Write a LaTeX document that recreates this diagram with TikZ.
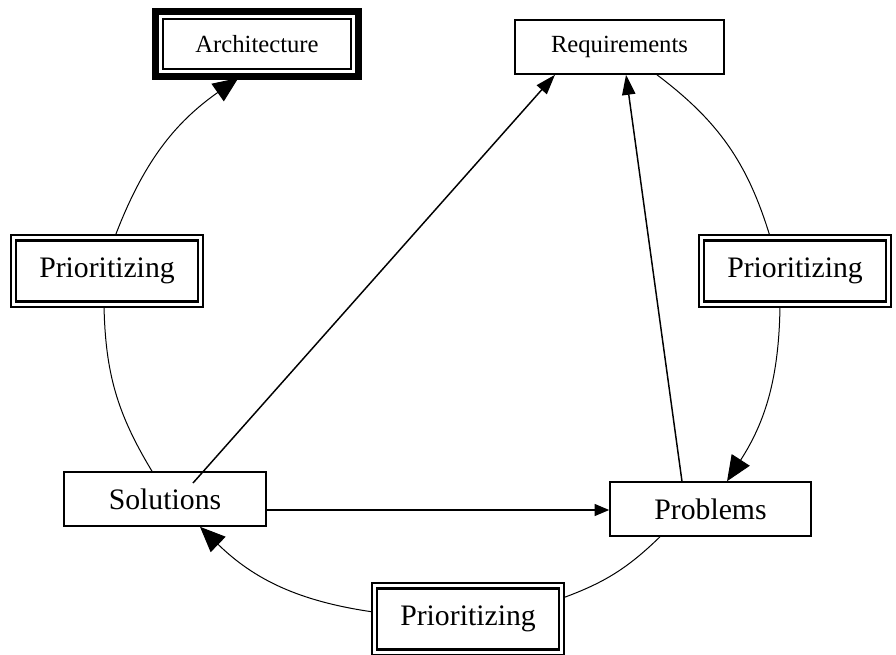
\documentclass[tikz,border=0pt]{standalone}
\usepackage{fontspec}
\setmainfont{Liberation Serif}
\usetikzlibrary{arrows.meta,backgrounds}
\begin{document}
\begin{tikzpicture}[x=0.75pt,y=-0.75pt,
  bigtext/.style={font=\fontsize{22.3pt}{26pt}\selectfont},
  smalltext/.style={font=\fontsize{18.5pt}{22pt}\selectfont},
  plainbox/.style={draw, fill=white, line width=1.2pt, inner sep=0pt,
    minimum height=40.5pt},
  dblbox/.style={draw, fill=white, double=white, double distance=1.9pt,
    line width=1.9pt, inner sep=0pt, minimum width=140pt, minimum height=49.9pt, bigtext},
  archbox/.style={draw, fill=white, line width=5.25pt, inner sep=0pt,
    minimum width=152.25pt, minimum height=48.75pt, smalltext},
  ring/.style={line width=0.75pt},
  bigtip/.style={-{Triangle[length=19pt,width=16pt]}},
  straight/.style={line width=1.1pt},
  midtip/.style={-{Triangle[length=15pt,width=10pt]}},
  smalltip/.style={-{Triangle[length=11pt,width=9pt]}}
]
\useasboundingbox (0,0) rectangle (896,654);

% boxes
\node[archbox] (arch) at (257,44) {Architecture};
\draw[line width=1.1pt] ([shift={(8.2pt,8.2pt)}]arch.south west)
  rectangle ([shift={(-8.2pt,-8.2pt)}]arch.north east);
\node[plainbox, smalltext, minimum width=156.75pt] (req) at (619.5,47) {Requirements};
\node[dblbox] (prioL) at (107,271) {Prioritizing};
\node[dblbox] (prioR) at (795,271) {Prioritizing};
\node[dblbox] (prioB) at (468,619) {Prioritizing};
\node[plainbox, bigtext, minimum width=151.5pt] (sol) at (165,499) {Solutions};
\node[plainbox, bigtext, minimum width=150.75pt] (prob) at (710.5,509) {Problems};

% the cycle of curved connectors, kept behind the boxes
\begin{scope}[on background layer]
\draw[ring] ([xshift=28.1pt]req.south) to[bend left=18] ([xshift=-18.75pt]prioR.north);
\draw[ring, bigtip] ([xshift=-11.25pt]prioR.south) to[bend left=16] ([xshift=12.4pt]prob.north);
\draw[ring] ([xshift=-37.9pt]prob.south) to[bend left=12] ([yshift=15.75pt]prioB.east);
\draw[ring, bigtip] ([yshift=5.25pt]prioB.west) to[bend left=18] ([xshift=26.25pt]sol.south);
\draw[ring] ([xshift=-9.75pt]sol.north) to[bend left=15] ([xshift=-2.25pt]prioL.south);
\draw[ring, bigtip] ([xshift=6pt]prioL.north) to[bend left=17] ([xshift=-14pt,yshift=1.5pt]arch.south);
\end{scope}

% straight connectors
\draw[straight, midtip] ([xshift=21pt,yshift=12pt]sol.center) -- ([xshift=-48.4pt]req.south);
\draw[straight, midtip] ([xshift=-21.4pt]prob.north) -- ([xshift=4.9pt]req.south);
\draw[straight, smalltip] ([yshift=-8.25pt]sol.east) -- ([yshift=-8.25pt]sol.east -| prob.west);
\end{tikzpicture}
\end{document}
